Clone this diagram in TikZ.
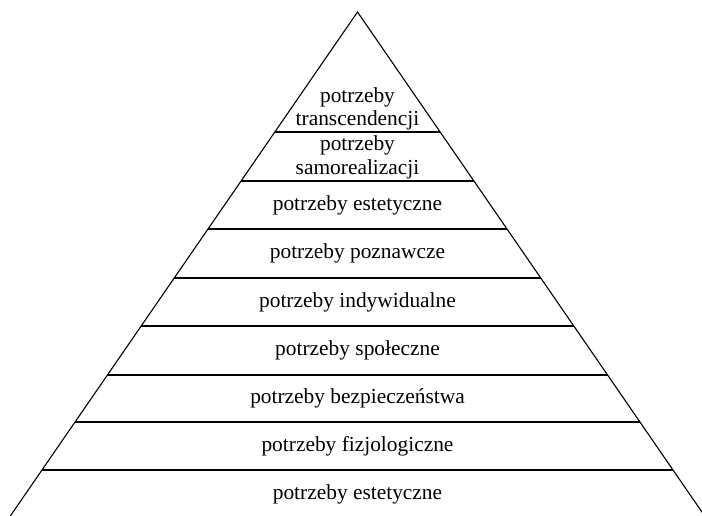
\documentclass[tikz,border=0pt]{standalone}
\usepackage{fontspec}
\setmainfont{Liberation Serif}
\usetikzlibrary{calc}
\begin{document}
\begin{tikzpicture}[x=1pt,y=-1pt,
  edge/.style={line width=1.1pt},
  label/.style={font=\fontsize{21.4}{23.5}\selectfont, align=center, inner sep=0pt}]
\useasboundingbox (0,0) rectangle (702,516);
\coordinate (A) at (357.5,12);
\coordinate (L) at (10.3,516);
\coordinate (R) at (704.7,516);
\begin{scope}
\clip (0,0) rectangle (702,516);
\draw[edge] (L) -- (A) -- (R);
\foreach \y [count=\i] in {132,181,229,278,326,375,422,470}{
  \pgfmathsetmacro{\t}{(\y-12)/504}
  \coordinate (l\i) at ($(A)!\t!(L)$);
  \coordinate (r\i) at ($(A)!\t!(R)$);
  \draw[edge] (l\i) -- (r\i);
}
\end{scope}
\node[label] (n1) at (357.5,109) {potrzeby\\transcendencji};
\node[label] (n2) at (357.5,157.5) {potrzeby\\samorealizacji};
\node[label] (n3) at (357.5,205) {potrzeby estetyczne};
\node[label] (n4) at (357.5,253.5) {potrzeby poznawcze};
\node[label] (n5) at (357.5,302) {potrzeby indywidualne};
\node[label] (n6) at (357.5,350.5) {potrzeby społeczne};
\node[label] (n7) at (357.5,398.5) {potrzeby bezpieczeństwa};
\node[label] (n8) at (357.5,446) {potrzeby fizjologiczne};
\node[label] (n9) at (357.5,494) {potrzeby estetyczne};
\end{tikzpicture}
\end{document}
